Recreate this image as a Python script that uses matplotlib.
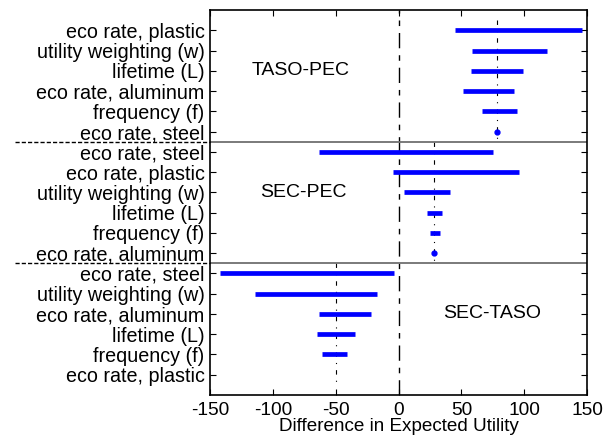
import matplotlib
matplotlib.use('Agg')
import matplotlib.pyplot as plt
import matplotlib.transforms as mtransforms

plt.rcParams['font.family'] = ['Liberation Sans', 'DejaVu Sans']
plt.rcParams['axes.unicode_minus'] = False

# one block per pairwise comparison, rows listed top to bottom
groups = ['TASO-PEC', 'SEC-PEC', 'SEC-TASO']
baselines = [78.4, 28.5, -49.7]
params = [
    ['eco rate, plastic', 'utility weighting (w)', 'lifetime (L)',
     'eco rate, aluminum', 'frequency (f)', 'eco rate, steel'],
    ['eco rate, steel', 'eco rate, plastic', 'utility weighting (w)',
     'lifetime (L)', 'frequency (f)', 'eco rate, aluminum'],
    ['eco rate, steel', 'utility weighting (w)', 'eco rate, aluminum',
     'lifetime (L)', 'frequency (f)', 'eco rate, plastic'],
]
lows = [
    [45.2, 58.7, 57.7, 51.1, 66.2, 78.4],
    [-63.3, -4.6, 4.1, 22.7, 25.1, 28.5],
    [-142.0, -114.0, -63.3, -64.9, -60.9, None],
]
highs = [
    [146.0, 117.9, 99.3, 92.2, 94.3, 78.4],
    [75.0, 95.9, 41.0, 34.6, 33.3, 28.5],
    [-3.3, -17.1, -21.9, -34.9, -40.7, None],
]
label_pos = [(-78, 3), (-76, 9), (74.5, 15)]

fig = plt.figure(figsize=(6.04, 4.41), dpi=100)
ax = fig.add_axes([0.3477, 0.1043, 0.6242, 0.873])

n = len(params[0])
ticks, ticklabels = [], []
for g in range(len(groups)):
    ys = [g * n + i + 1 for i in range(n)]
    # baseline of the comparison
    ax.plot([baselines[g], baselines[g]], [ys[0] - 0.5, ys[-1] + 0.5],
            color='black', lw=0.8, dashes=(4, 5.5, 1, 5.5), zorder=1)
    for y, lo, hi in zip(ys, lows[g], highs[g]):
        if lo is None:
            continue
        if hi - lo < 0.5:
            ax.plot([lo], [y], 'o', color='#0000ff', ms=3.5, mec='#0000ff', zorder=3)
        else:
            ax.hlines(y, lo, hi, color='#0000ff', lw=3.4, zorder=2)
    ticks += ys
    ticklabels += params[g]
    ax.text(label_pos[g][0], label_pos[g][1], groups[g], fontsize=14,
            ha='center', va='center')

# zero difference line
ax.axvline(0, color='black', lw=1.0, dashes=(11, 5, 4, 5), zorder=1)

# separators between the blocks
trans = mtransforms.blended_transform_factory(ax.transAxes, ax.transData)
for k in range(1, len(groups)):
    ysep = k * n + 0.5
    ax.plot([0, 1], [ysep, ysep], color='#707070', lw=1.3, transform=trans, zorder=1)
    ax.plot([-0.517, 0], [ysep, ysep], color='black', lw=1.0, dashes=(3, 1.5),
            transform=trans, clip_on=False)

ax.set_xlim(-150, 150)
ax.set_ylim(len(groups) * n + 1, 0)
ax.set_xticks([-150, -100, -50, 0, 50, 100, 150])
ax.set_yticks(ticks)
ax.set_yticklabels(ticklabels)
ax.tick_params(direction='in', top=True, right=True, length=4, width=0.8,
               labelsize=14.2)
ax.tick_params(axis='x', pad=5, labelsize=13.8)
ax.tick_params(axis='y', pad=4)
for s in ax.spines.values():
    s.set_linewidth(1.2)
ax.set_xlabel('Difference in Expected Utility', fontsize=13.6, labelpad=-0.5)

fig.savefig('out.png', dpi=100)
